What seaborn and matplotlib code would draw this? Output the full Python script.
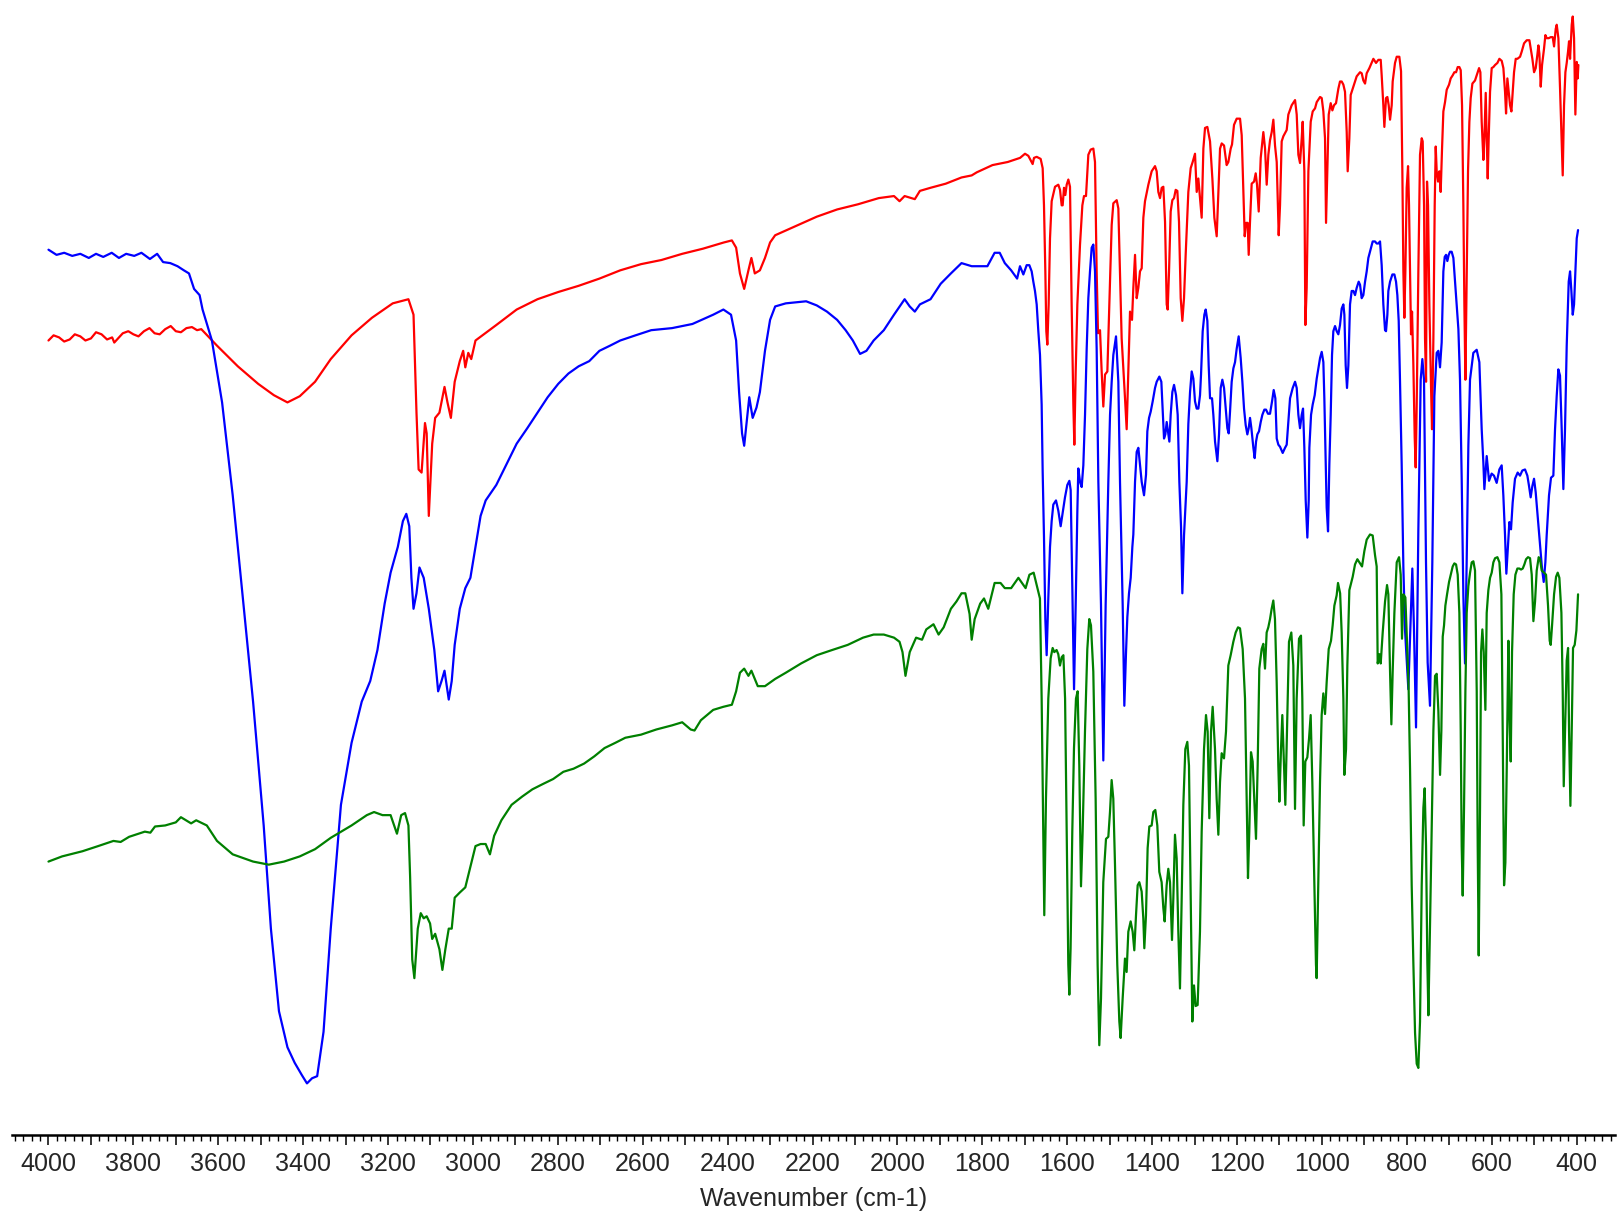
import pandas as pd
import seaborn as sns
import matplotlib
matplotlib.use("Agg")
import matplotlib.pyplot as plt
from matplotlib.ticker import MultipleLocator, FuncFormatter

# --- spectra (wavenumber in cm-1, offset transmittance) ---
red_wn = [4000, 3988, 3975, 3963, 3950, 3938, 3925, 3913, 3900, 3888,
          3875, 3862, 3850, 3845, 3825, 3812, 3800, 3788, 3775, 3762,
          3750, 3738, 3725, 3712, 3700, 3688, 3675, 3662, 3650, 3640,
          3603, 3554, 3506,
          3469, 3437, 3408, 3372, 3335, 3286, 3238, 3189, 3152, 3140,
          3133, 3128, 3121, 3113, 3109, 3104, 3096, 3089, 3079, 3067,
          3060, 3052, 3043, 3031, 3023, 3018, 3011, 3004, 2994, 2945,
          2897, 2848, 2799, 2751, 2702, 2653, 2604, 2556, 2507, 2458,
          2409, 2390, 2380, 2371, 2361, 2351, 2344, 2336, 2324, 2312,
          2300, 2288, 2239, 2190, 2142, 2093, 2044, 2008, 1995, 1983,
          1959, 1947, 1922, 1886, 1849, 1825, 1813, 1776, 1740, 1711,
          1699.4, 1691.6, 1681.4, 1678.2, 1671.9, 1662.5, 1657.8, 1654.7, 1651.5, 1649.2,
          1646.8, 1643.7, 1640.5, 1636.6, 1628.7, 1620.9, 1616.9, 1613.0, 1610.7, 1607.5,
          1604.4, 1601.2, 1597.3, 1593.4, 1589.5, 1585.5, 1583.2, 1580.0, 1576.1, 1569.8,
          1564.3, 1560.4, 1555.7, 1550.2, 1544.7, 1538.4, 1534.5, 1530.6, 1527.4, 1522.7,
          1518.8, 1514.9, 1510.9, 1505.4, 1500.7, 1495.2, 1491.3, 1483.4, 1479.5, 1475.6,
          1471.7, 1467.7, 1463.8, 1459.9, 1455.9, 1452.0, 1447.3, 1444.2, 1440.2, 1436.3,
          1432.4, 1428.5, 1424.5, 1420.6, 1416.7, 1408.8, 1401.0, 1393.1, 1389.2, 1385.3,
          1381.3, 1377.4, 1373.5, 1369.5, 1365.6, 1363.3, 1360.1, 1356.2, 1352.3, 1348.3,
          1344.4, 1340.5, 1336.6, 1332.6, 1328.7, 1324.8, 1320.9, 1314.6, 1309.1, 1304.4,
          1298.9, 1294.9, 1291.0, 1287.1, 1283.2, 1279.2, 1275.3, 1269.8, 1263.5, 1258.0,
          1253.3, 1247.8, 1243.9, 1239.9, 1236.0, 1230.5, 1224.3, 1220.3, 1214.8, 1211.7,
          1207.0, 1200.7, 1192.8, 1188.9, 1185.0, 1181.8, 1178.7, 1174.8, 1172.4, 1169.3,
          1165.4, 1159.8, 1155.9, 1152.8, 1148.8, 1144.1, 1137.9, 1133.9, 1130.0, 1126.1,
          1122.2, 1118.2, 1114.3, 1110.4, 1106.4, 1101.7, 1098.6, 1094.7, 1090.7, 1082.9,
          1079.0, 1071.1, 1063.2, 1059.3, 1055.4, 1051.5, 1047.5, 1045.2, 1041.3, 1038.9,
          1035.8, 1031.8, 1026.3, 1021.6, 1016.1, 1012.2, 1004.3,
          1000.4, 996.5, 992.6, 990.2, 987.1, 983.9, 979.2, 975.3, 971.4, 966.7,
          961.2, 957.3, 953.3, 949.4, 945.5, 941.5, 939.2, 935.3, 932.1, 927.4,
          921.9, 918.0, 910.1, 906.2, 902.3, 898.3, 894.4, 888.1, 885.0, 878.7,
          872.4, 866.9, 861.4, 859.1, 855.2, 852.8, 848.9, 845.7, 842.6, 839.4,
          835.5, 833.2, 827.7, 823.7, 817.5, 813.5, 810.4, 808.0, 805.7, 803.3,
          800.2, 797.0, 794.7, 792.3, 790.0, 787.6, 784.5, 781.3, 779.0, 776.6,
          772.7, 768.8, 764.8, 762.5, 759.3, 757.0, 754.6, 752.3, 749.9, 746.8,
          742.8, 740.5, 737.3, 734.2, 731.8, 729.5, 726.3, 723.2, 720.1, 716.9,
          713.8, 709.9, 705.9, 700.4, 696.5, 691.8, 687.9, 683.9, 680.0, 676.1,
          672.9, 669.8, 666.7, 664.3, 661.9, 658.8, 655.7, 652.5, 649.4, 645.4,
          639.2, 633.7, 629.7, 626.6, 623.5, 619.5, 617.2, 614.0, 611.7, 609.3,
          607.0, 603.8, 599.9, 596.0, 592.0, 586.5, 581.8, 576.3, 572.4, 568.5,
          566.1, 563.0, 559.8, 556.7, 553.5, 550.4, 547.3, 543.3, 539.4, 533.1,
          529.2, 523.7, 517.4, 511.1, 507.2, 504.1, 500.1, 496.2, 492.3, 489.9,
          487.6, 484.4, 481.3, 476.6, 473.4, 470.3, 465.6, 460.9, 456.2, 453.0,
          449.1, 446.7, 442.8, 438.9, 435.0, 432.6, 429.5, 426.3, 423.2, 420.1,
          417.7, 415.3, 411.4, 409.0, 405.9, 402.8, 399.6, 397.3, 395.7]
red_t = [77.0, 77.5, 77.3, 76.9, 77.1, 77.6, 77.4, 77.0, 77.2, 77.8,
         77.6, 77.1, 77.3, 76.8, 77.7, 77.9, 77.6, 77.4, 77.9, 78.2,
         77.7, 77.6, 78.1, 78.4, 77.9, 77.8, 78.2, 78.3, 78.0, 78.1,
         76.5, 74.5, 72.8,
         71.7, 71.0, 71.6, 73.0, 75.2, 77.5, 79.2, 80.6, 81.0, 79.5,
         70.0, 64.5, 64.2, 69.0, 68.0, 60.0, 67.0, 69.5, 70.0, 72.5,
         71.0, 69.5, 73.0, 75.0, 76.0, 74.4, 75.8, 75.2, 77.0, 78.5,
         80.0, 81.0, 81.7, 82.3, 83.0, 83.8, 84.4, 84.8, 85.4, 85.9,
         86.5, 86.7, 86.0, 83.5, 82.0, 83.8, 85.0, 83.5, 83.8, 85.0,
         86.5, 87.2, 88.1, 89.0, 89.7, 90.2, 90.8, 91.0, 90.5, 91.0,
         90.7, 91.5, 91.8, 92.2, 92.8, 93.0, 93.3, 94.0, 94.3, 94.7,
         95.1, 94.9, 94.1, 94.7, 94.8, 94.6, 93.7, 90.1, 83.7, 77.9,
         76.6, 80.5, 86.9, 90.5, 91.9, 92.1, 91.6, 90.1, 90.1, 91.8,
         91.1, 92.1, 92.6, 91.9, 80.5, 70.8, 66.9, 74.0, 80.5, 86.3,
         90.1, 91.0, 91.0, 95.0, 95.5, 95.6, 94.3, 83.7, 77.7, 78.0,
         74.0, 70.6, 73.7, 74.0, 80.5, 88.2, 90.3, 90.6, 89.8, 83.7,
         77.2, 74.3, 71.4, 68.4, 74.0, 79.8, 79.0, 82.1, 85.3, 81.1,
         82.1, 83.7, 84.0, 88.9, 90.5, 92.1, 93.4, 93.9, 93.4, 91.4,
         90.8, 91.8, 91.9, 88.5, 80.5, 80.0, 83.7, 89.5, 90.6, 90.8,
         91.6, 91.5, 88.5, 81.1, 78.9, 81.1, 85.3, 91.4, 93.7, 94.3,
         95.1, 91.4, 92.7, 90.8, 88.9, 95.6, 97.6, 97.7, 96.3, 92.7,
         88.9, 87.1, 91.4, 95.6, 96.1, 95.9, 94.0, 94.3, 95.6, 96.0,
         97.9, 98.5, 98.5, 96.9, 91.4, 87.1, 88.4, 88.4, 85.3, 88.5,
         92.2, 92.4, 93.2, 92.1, 89.5, 94.7, 97.2, 95.6, 92.1, 95.0,
         96.4, 97.2, 98.4, 95.9, 94.3, 87.2, 90.1, 96.3, 96.8, 97.4,
         98.9, 99.8, 100.3, 98.9, 95.0, 94.2, 96.6, 98.2, 93.4, 78.5,
         82.1, 93.4, 98.2, 99.2, 99.5, 100.1, 100.6,
         100.5, 99.2, 96.6, 88.4, 93.4, 98.9, 100.0, 99.3, 99.8, 100.0,
         101.4, 102.1, 102.1, 101.8, 101.1, 97.2, 93.4, 96.6, 100.8, 101.4,
         102.1, 102.6, 103.0, 102.9, 102.2, 101.9, 102.9, 103.4, 103.7, 104.3,
         103.9, 104.2, 104.2, 102.7, 99.8, 97.7, 100.5, 100.6, 99.8, 98.4,
         99.8, 102.1, 103.9, 104.5, 104.5, 103.1, 93.4, 83.7, 79.2, 83.7,
         91.8, 93.9, 90.1, 83.7, 77.6, 79.8, 74.7, 67.6, 64.7, 70.8,
         83.7, 95.0, 96.6, 96.3, 90.1, 77.2, 73.0, 92.4, 90.1, 80.5,
         72.4, 68.4, 77.2, 90.1, 95.8, 93.4, 92.4, 93.4, 91.4, 95.6,
         99.2, 100.1, 101.3, 101.8, 102.4, 102.7, 103.0, 103.0, 103.5, 103.5,
         103.2, 99.8, 90.1, 80.5, 73.2, 83.7, 93.4, 98.2, 100.5, 101.9,
         102.2, 102.9, 103.4, 103.0, 98.2, 94.5, 96.6, 101.0, 96.6, 92.7,
         96.6, 101.1, 103.4, 103.5, 103.7, 103.9, 104.3, 104.1, 103.4, 101.1,
         99.0, 102.4, 101.1, 99.8, 99.2, 101.1, 103.0, 104.3, 104.3, 104.5,
         105.0, 105.8, 106.1, 106.1, 105.1, 104.3, 103.0, 103.4, 104.7, 105.6,
         104.8, 101.6, 103.7, 105.3, 106.6, 106.3, 106.3, 106.4, 106.4, 105.5,
         107.2, 107.6, 106.3, 101.4, 96.0, 93.0, 99.8, 103.0, 103.9, 105.0,
         106.0, 104.3, 107.6, 108.4, 106.3, 98.9, 104.0, 102.4, 103.7]

blue_wn = [4000, 3981, 3963, 3944, 3925, 3905, 3888, 3871, 3851, 3834,
           3817, 3798, 3781, 3761, 3744, 3730, 3713, 3696, 3681, 3669,
           3657, 3644, 3637, 3615, 3591, 3566, 3542, 3518, 3493, 3476,
           3457, 3437, 3420, 3403, 3391, 3379, 3367, 3352, 3335, 3311,
           3286, 3262, 3242, 3225, 3208, 3194, 3177, 3165, 3157, 3150,
           3145, 3140, 3133, 3126, 3116, 3104, 3091, 3082, 3074, 3067,
           3057, 3050, 3043, 3031, 3018, 3006, 2994, 2982, 2970, 2945,
           2921, 2897, 2872, 2848, 2824, 2799, 2775, 2751, 2726, 2702,
           2677, 2653, 2617, 2580, 2531, 2483, 2434, 2410, 2392, 2380,
           2373, 2366, 2361, 2353, 2349, 2341, 2332, 2324, 2312, 2300,
           2288, 2263, 2215, 2190, 2166, 2142, 2122, 2105, 2088, 2073,
           2056, 2032, 2008, 1983, 1971, 1959, 1947, 1922, 1898, 1874,
           1849, 1825, 1805, 1788, 1771, 1759, 1747, 1732, 1718,
           1711.2, 1703.3, 1695.5, 1689.2, 1683.7, 1679.8, 1675.9, 1671.9, 1668.0, 1664.1,
           1660.2, 1657.8, 1654.7, 1651.5, 1648.4, 1644.5, 1640.5, 1636.6, 1632.7, 1626.4,
           1620.9, 1615.4, 1610.7, 1605.2, 1599.7, 1594.9, 1591.8, 1587.9, 1583.9, 1580.0,
           1576.1, 1573.8, 1569.8, 1565.9, 1562.0, 1558.0, 1554.1, 1550.2, 1546.3, 1542.3,
           1538.4, 1534.5, 1530.6, 1526.6, 1520.4, 1514.9, 1509.4, 1503.1, 1499.1, 1495.2,
           1491.3, 1485.0, 1479.5, 1475.6, 1469.3, 1465.4, 1461.4, 1458.3, 1454.4, 1450.4,
           1446.5, 1444.2, 1440.2, 1436.3, 1432.4, 1428.5, 1424.5, 1419.0, 1414.3, 1411.2,
           1407.2, 1403.3, 1398.6, 1393.1, 1389.2, 1382.9, 1378.2, 1375.1, 1371.9, 1368.8,
           1365.6, 1362.5, 1359.3, 1356.2, 1352.3, 1348.3, 1343.6, 1339.7, 1335.8, 1331.8,
           1328.7, 1324.8, 1318.5, 1314.6, 1310.6, 1306.7, 1302.8, 1298.9, 1294.9, 1291.0,
           1287.1, 1284.7, 1280.8, 1276.9, 1273.7, 1269.8, 1266.7, 1263.5, 1258.8, 1255.7,
           1251.7, 1246.2, 1242.3, 1238.4, 1234.5, 1230.5, 1226.6, 1222.7, 1219.5, 1216.4,
           1212.5, 1208.5, 1204.6, 1200.7, 1196.0, 1191.3, 1187.3, 1183.4, 1179.5, 1175.6,
           1172.4, 1169.3, 1166.1, 1161.4, 1158.3, 1155.1, 1152.0, 1148.1, 1144.1, 1140.2,
           1135.5, 1131.6, 1126.9, 1122.2, 1117.4, 1113.5, 1109.6, 1106.4, 1102.5, 1098.6,
           1092.3, 1086.8, 1082.9, 1079.0, 1075.0, 1068.7, 1063.2, 1059.3, 1055.4, 1051.5,
           1047.5, 1044.4, 1041.3, 1038.1, 1034.2, 1031.0, 1029.5, 1025.5, 1021.6, 1016.9,
           1012.2, 1004.3, 1000.4, 996.5, 994.2, 991.8, 988.7, 985.5, 982.4, 979.2,
           976.1, 973.0, 969.0, 965.1, 961.2, 957.3, 953.3, 949.4, 947.0, 943.9,
           940.8, 937.6, 933.7, 929.8, 925.8, 921.9, 918.0, 913.3, 910.1, 906.2,
           902.3, 898.3, 894.4, 890.5, 886.6, 880.3, 874.8, 870.9, 866.9, 863.0,
           859.1, 855.2, 851.2, 848.9, 845.7, 843.4, 839.4, 833.9, 829.2, 825.3,
           822.2, 819.0, 815.9, 812.0, 808.0, 804.2, 796.3, 791.6, 786.9, 783.0,
           778.2, 772.7, 767.2, 763.3, 759.4, 754.7, 750.8, 745.3, 739.8, 735.0,
           729.5, 725.6, 721.7, 717.8, 713.8, 710.6, 707.5, 704.4, 701.2, 698.1,
           694.2, 690.2, 686.3, 682.4, 678.4, 674.6, 670.6, 666.7, 662.8, 658.9,
           654.9, 651.0, 643.2, 635.3, 629.0, 623.5, 619.6, 617.2, 611.7, 606.2,
           600.0, 594.5, 588.2, 581.9, 576.4, 572.5, 568.5, 565.4, 561.5, 558.3,
           554.4, 550.5, 545.0, 538.7, 533.2, 527.7, 521.4, 515.9, 512.0, 508.1,
           504.1, 500.2, 496.3, 491.6, 486.1, 481.4, 477.4, 473.5, 470.4, 464.9,
           460.2, 454.7, 450.7, 446.8, 442.9, 439.0, 435.0, 431.1, 427.2, 423.2,
           418.5, 415.3, 412.2, 409.0, 405.9, 402.8, 399.6, 396.5]
blue_t = [85.8, 85.3, 85.5, 85.2, 85.4, 85.0, 85.4, 85.1, 85.5, 85.0,
          85.4, 85.2, 85.5, 84.9, 85.4, 84.6, 84.5, 84.2, 83.8, 83.5,
          82.0, 81.4, 80.0, 77.0, 71.0, 62.0, 52.0, 42.0, 30.0, 20.0,
          12.0, 8.5, 7.0, 5.8, 5.0, 5.5, 5.7, 10.0, 20.0, 32.0,
          38.0, 42.0, 44.0, 47.0, 51.5, 54.5, 57.0, 59.5, 60.2, 59.0,
          54.0, 51.0, 52.5, 55.0, 54.0, 51.0, 47.0, 43.0, 44.0, 45.0,
          42.2, 44.0, 47.5, 51.0, 53.0, 54.0, 57.0, 60.0, 61.5, 63.0,
          65.0, 67.0, 68.5, 70.0, 71.5, 72.8, 73.8, 74.5, 75.0, 76.0,
          76.5, 77.0, 77.5, 78.0, 78.2, 78.6, 79.5, 80.0, 79.5, 77.0,
          72.0, 68.0, 66.8, 70.0, 71.5, 69.5, 70.5, 72.0, 76.0, 79.0,
          80.3, 80.6, 80.8, 80.4, 79.8, 79.0, 78.0, 77.0, 75.7, 76.0,
          77.0, 78.0, 79.5, 81.0, 80.3, 79.8, 80.5, 81.0, 82.5, 83.5,
          84.5, 84.2, 84.2, 84.2, 85.5, 85.5, 84.5, 83.8, 83.0,
          84.2, 83.4, 84.3, 84.3, 83.7, 82.7, 81.8, 80.5, 77.9, 75.6,
          70.8, 64.3, 58.0, 50.0, 46.5, 52.0, 57.0, 59.5, 61.1, 61.5,
          60.5, 59.0, 60.3, 61.8, 63.0, 63.4, 62.5, 53.2, 43.2, 51.4,
          60.4, 64.6, 63.3, 62.8, 64.9, 69.8, 76.2, 81.1, 83.7, 86.0,
          86.3, 83.7, 76.2, 63.3, 51.4, 36.3, 51.4, 63.3, 69.8, 73.0,
          75.6, 77.4, 73.0, 63.3, 51.4, 41.6, 46.8, 50.2, 52.5, 54.0,
          57.0, 58.2, 63.3, 66.2, 66.6, 65.0, 63.3, 62.0, 64.0, 68.2,
          69.5, 70.1, 71.1, 72.4, 73.0, 73.5, 73.0, 70.4, 67.5, 67.9,
          69.1, 68.2, 67.2, 69.8, 72.0, 72.7, 71.7, 69.8, 63.3, 58.9,
          52.5, 58.1, 63.3, 68.9, 72.0, 74.0, 73.3, 71.1, 70.4, 70.4,
          71.7, 73.7, 77.9, 79.5, 80.0, 78.9, 74.6, 71.4, 71.4, 69.8,
          67.2, 65.3, 67.9, 72.4, 73.2, 72.4, 70.4, 68.5, 68.0, 70.1,
          73.0, 74.3, 74.9, 76.2, 77.4, 75.3, 73.0, 70.4, 68.8, 67.9,
          68.5, 69.5, 68.5, 66.6, 65.6, 67.2, 67.9, 68.2, 69.1, 69.8,
          70.3, 70.3, 69.9, 69.9, 71.1, 72.2, 71.4, 67.5, 66.9, 66.7,
          66.1, 66.6, 66.9, 69.1, 71.4, 72.4, 73.0, 72.4, 69.8, 68.5,
          69.8, 70.4, 66.6, 61.5, 57.9, 61.5, 66.6, 69.8, 70.8, 71.7,
          73.3, 75.3, 75.9, 74.9, 71.4, 66.6, 60.8, 58.5, 65.0, 69.8,
          75.6, 77.9, 78.4, 77.9, 77.6, 78.5, 80.1, 80.5, 79.5, 74.6,
          72.4, 74.6, 80.5, 81.8, 81.8, 81.4, 82.1, 82.7, 82.4, 81.1,
          81.4, 82.7, 83.7, 85.0, 85.6, 86.6, 86.6, 86.4, 86.4, 86.6,
          84.3, 80.5, 78.0, 77.9, 79.5, 81.8, 82.7, 83.4, 83.4, 82.7,
          81.4, 78.9, 73.0, 65.0, 55.0, 49.0, 43.2, 49.0, 54.9, 49.0,
          39.5, 58.7, 73.2, 75.2, 73.2, 55.5, 45.8, 41.6, 55.5, 71.6,
          75.8, 76.0, 74.4, 76.8, 83.7, 85.1, 85.3, 84.7, 85.3, 85.6,
          85.6, 85.0, 82.7, 80.5, 78.1, 73.2, 63.6, 52.3, 45.7, 55.5,
          66.8, 73.2, 75.8, 76.1, 74.9, 68.4, 65.2, 62.6, 65.8, 63.4,
          64.1, 63.9, 63.2, 64.5, 64.9, 62.0, 58.1, 54.4, 57.1, 59.4,
          58.7, 61.3, 63.6, 64.2, 63.9, 64.4, 64.5, 63.9, 62.9, 61.8,
          62.9, 63.6, 62.3, 60.0, 57.4, 54.9, 53.6, 55.5, 58.1, 62.0,
          63.7, 63.9, 68.4, 71.6, 74.2, 73.6, 68.4, 62.6, 68.4, 76.5,
          82.7, 83.7, 81.8, 79.5, 80.5, 83.7, 86.9, 87.7]

green_wn = [4000, 3968, 3920, 3883, 3847, 3830, 3810, 3773, 3760, 3749,
            3725, 3700, 3688, 3676, 3664, 3652, 3627, 3603, 3566, 3518,
            3481, 3445, 3408, 3372,
            3335, 3286, 3250, 3233, 3213, 3194, 3179, 3169, 3160, 3152,
            3148, 3143, 3138, 3130, 3123, 3116, 3109, 3101, 3096, 3089,
            3079, 3072, 3065, 3057, 3050, 3043, 3031, 3018, 3006, 2994,
            2982, 2970, 2960, 2950, 2933, 2909, 2884, 2860, 2836, 2811,
            2787, 2763, 2738, 2714, 2690, 2665, 2641, 2604, 2568, 2531,
            2507, 2487, 2478, 2463, 2434, 2410, 2390, 2380, 2371, 2361,
            2351, 2344, 2329, 2312, 2288, 2263, 2227, 2190, 2154, 2117,
            2081, 2056, 2032, 2008, 1995, 1988, 1981, 1971, 1956, 1942,
            1932, 1915, 1903, 1891, 1874, 1861, 1849, 1840, 1830, 1825,
            1818, 1805, 1796, 1786, 1771, 1757, 1747, 1732, 1715, 1698,
            1689, 1679,
            1664.2, 1660.2, 1656.3, 1654.0, 1650.0, 1644.5, 1639.0, 1634.3, 1630.4, 1625.0,
            1621.0, 1617.0, 1613.0, 1609.0, 1605.0, 1601.3, 1597.4, 1595.0, 1592.0, 1588.0,
            1584.0, 1579.3, 1575.4, 1571.5, 1567.5, 1563.6, 1558.1, 1552.6, 1548.0, 1544.0,
            1538.5, 1533.0, 1528.3, 1524.4, 1520.4, 1515.0, 1508.6, 1503.1, 1499.2, 1495.3,
            1491.4, 1487.4, 1482.0, 1477.2, 1474.1, 1469.4, 1463.9, 1460.0, 1456.0, 1450.5,
            1445.8, 1441.9, 1437.9, 1434.0, 1430.1, 1424.6, 1420.7, 1418.3, 1414.4, 1410.5,
            1406.5, 1401.0, 1397.1, 1392.4, 1387.7, 1383.0, 1377.5, 1373.5, 1370.4, 1365.7,
            1361.8, 1357.8, 1353.1, 1350.0, 1346.1, 1342.1, 1338.2, 1334.3, 1330.3, 1326.4,
            1321.7, 1317.0, 1313.1, 1309.1, 1305.2, 1301.3, 1297.4, 1292.7, 1287.2, 1283.2,
            1277.7, 1273.0, 1269.1, 1265.2, 1261.2, 1257.3, 1251.8, 1247.9, 1243.9, 1240.0,
            1236.1, 1230.6, 1225.9, 1220.4, 1214.9, 1208.6, 1203.1, 1197.6, 1192.9, 1186.6,
            1181.1, 1177.2, 1174.1, 1171.0, 1167.0, 1163.1, 1159.2, 1155.2, 1151.3, 1147.4,
            1141.9, 1138.0, 1134.0, 1130.1, 1126.2, 1122.2, 1118.3, 1114.4, 1110.5, 1106.5,
            1102.6, 1100.2, 1096.3, 1093.2, 1089.2, 1086.1, 1081.4, 1077.5, 1072.0, 1067.3,
            1063.3, 1059.4, 1053.9, 1049.2, 1046.1, 1042.9, 1039.0, 1034.3, 1030.3, 1026.4,
            1022.5, 1018.6, 1013.9, 1012.3, 1008.4, 1004.4, 1000.5, 996.6, 992.6, 988.7,
            983.9, 978.5, 974.6, 970.6, 965.2, 962.0, 957.0, 953.4, 949.4, 947.1,
            943.1, 940.0,
            935.3, 927.4, 921.9, 916.4, 910.1, 905.4, 899.9, 894.4, 886.6, 880.3,
            874.8, 870.9, 868.5, 864.6, 861.4, 856.7, 851.2, 846.5, 843.4, 839.4,
            836.3, 833.2, 829.2, 823.7, 818.2, 814.3, 811.2, 808.0, 803.3, 798.6,
            795.5, 792.3, 788.4, 784.5, 780.5, 776.6, 772.7, 768.8, 764.8, 760.9,
            757.8, 754.6, 751.5, 749.1, 745.2, 741.3, 737.3, 733.4, 729.5, 725.6,
            721.6, 718.5, 715.3, 712.2, 709.1, 705.1, 700.4, 696.5, 691.8, 687.9,
            683.9, 680.0, 676.1, 672.9, 670.6, 668.2, 665.1, 661.9, 658.8, 654.9,
            650.9, 647.0, 643.1, 639.2, 635.2, 632.9, 630.5, 627.4, 625.0, 621.9,
            618.7, 614.8, 611.7, 607.8, 603.8, 599.9, 596.0, 592.0, 586.5, 581.8,
            577.1, 574.0, 570.8, 567.7, 564.5, 560.6, 558.3, 555.1, 552.0, 548.1,
            544.1, 539.4, 534.7, 530.8, 526.8, 522.9, 519.0, 514.3, 509.6, 505.6,
            501.7, 497.8, 493.9, 489.2, 486.0, 482.1, 476.6, 471.9, 467.2, 463.3,
            460.9, 457.7, 453.0, 448.3, 444.4, 440.5, 435.7, 432.6, 430.2, 427.1,
            423.2, 420.0, 417.7, 414.5, 411.4, 408.3, 404.4, 400.4, 396.5]
green_t = [26.5, 27.0, 27.5, 28.0, 28.5, 28.4, 28.9, 29.4, 29.3, 29.9,
           30.0, 30.3, 30.8, 30.5, 30.2, 30.5, 30.0, 28.5, 27.2, 26.5,
           26.2, 26.5, 27.0, 27.7,
           28.8, 30.0, 31.0, 31.3, 31.0, 31.0, 29.2, 31.0, 31.2, 30.0,
           25.0, 17.0, 15.2, 20.0, 21.5, 21.0, 21.2, 20.5, 19.0, 19.5,
           18.0, 16.0, 18.0, 20.0, 20.0, 23.0, 23.5, 24.0, 26.0, 28.0,
           28.2, 28.2, 27.2, 29.0, 30.5, 32.0, 32.8, 33.5, 34.0, 34.5,
           35.2, 35.5, 36.0, 36.7, 37.5, 38.0, 38.5, 38.8, 39.3, 39.7,
           40.0, 39.3, 39.2, 40.2, 41.2, 41.5, 41.7, 43.0, 44.8, 45.2,
           44.5, 45.0, 43.5, 43.5, 44.2, 44.8, 45.7, 46.5, 47.0, 47.5,
           48.2, 48.5, 48.5, 48.2, 47.8, 46.8, 44.5, 46.8, 48.2, 48.0,
           49.0, 49.5, 48.5, 49.2, 51.0, 51.7, 52.5, 52.5, 50.5, 48.0,
           50.0, 51.5, 52.0, 51.0, 53.5, 53.5, 53.0, 53.0, 54.0, 53.0,
           54.3, 54.5,
           52.0, 42.3, 29.4, 21.3, 32.6, 42.3, 46.2, 47.2, 46.8, 47.0,
           46.6, 45.5, 46.3, 46.5, 42.3, 29.4, 16.5, 13.6, 18.1, 29.4,
           37.5, 42.3, 43.0, 35.8, 24.1, 29.4, 39.1, 47.1, 50.0, 49.4,
           44.9, 32.6, 16.5, 8.7, 13.2, 24.5, 28.7, 28.9, 31.3, 34.4,
           32.6, 26.2, 16.5, 11.0, 9.4, 13.2, 17.1, 15.8, 19.7, 20.7,
           19.7, 17.9, 21.3, 24.2, 24.5, 23.6, 21.0, 18.1, 21.3, 27.8,
           29.9, 30.0, 31.3, 31.5, 30.0, 25.5, 24.5, 22.0, 20.7, 24.2,
           25.8, 24.5, 18.9, 22.9, 29.1, 26.8, 19.7, 14.2, 22.9, 32.0,
           37.4, 38.1, 35.8, 22.9, 11.0, 14.5, 12.5, 12.6, 19.7, 29.4,
           37.4, 40.7, 39.1, 30.7, 39.1, 41.5, 37.4, 32.6, 29.1, 34.2,
           37.0, 36.5, 39.1, 45.5, 46.5, 47.8, 48.7, 49.2, 49.1, 47.1,
           42.3, 32.6, 24.9, 29.4, 37.1, 36.2, 32.6, 28.7, 35.8, 45.2,
           47.1, 47.6, 45.2, 48.7, 49.2, 50.0, 51.0, 51.8, 50.0, 43.9,
           35.8, 32.3, 37.4, 40.7, 35.8, 32.0, 40.7, 47.8, 48.7, 45.5,
           31.6, 42.3, 48.1, 48.4, 42.3, 30.0, 36.2, 36.6, 38.4, 40.7,
           34.2, 26.2, 16.5, 15.2, 24.5, 34.2, 40.7, 42.8, 40.8, 43.9,
           47.1, 47.9, 49.4, 51.3, 52.3, 53.5, 52.5, 48.7, 42.3, 34.9,
           37.4, 45.5,
           52.8, 54.1, 55.3, 55.8, 55.4, 55.1, 56.6, 57.7, 58.2, 58.1,
           56.2, 55.1, 45.7, 46.6, 45.7, 48.7, 51.7, 53.3, 52.4, 44.9,
           39.8, 44.9, 50.6, 55.5, 56.0, 54.3, 48.1, 52.4, 52.1, 46.8,
           43.0, 35.5, 24.2, 16.7, 9.9, 6.9, 6.5, 11.0, 24.2, 31.7,
           33.6, 28.0, 16.7, 11.6, 20.4, 29.8, 39.2, 44.5, 44.7, 41.1,
           34.9, 39.2, 48.3, 49.4, 51.3, 52.4, 53.6, 54.3, 55.1, 55.4,
           55.3, 54.3, 50.6, 39.2, 28.0, 23.2, 31.7, 43.0, 50.6, 53.2,
           54.5, 55.5, 55.6, 54.7, 43.0, 28.0, 17.4, 31.7, 46.8, 49.0,
           46.8, 41.2, 50.6, 52.8, 54.0, 54.5, 55.5, 55.9, 56.0, 55.5,
           52.4, 39.2, 24.2, 26.4, 35.5, 47.9, 41.1, 36.2, 46.8, 52.4,
           54.3, 54.9, 54.9, 54.8, 54.9, 55.3, 55.8, 56.0, 55.9, 54.3,
           49.8, 51.7, 54.7, 56.0, 55.8, 54.7, 54.5, 54.3, 51.3, 47.9,
           47.5, 49.4, 52.4, 54.1, 54.5, 54.0, 50.6, 43.0, 33.8, 39.2,
           46.0, 47.2, 39.2, 31.9, 39.2, 47.2, 47.5, 48.9, 52.4]

traces = [(red_wn, red_t, '#ff0000'),
          (blue_wn, blue_t, '#0000ff'),
          (green_wn, green_t, '#008000')]

sns.set_style("white")
plt.rcParams['font.family'] = ['Liberation Sans', 'DejaVu Sans']

fig = plt.figure(figsize=(16.21, 12.22), dpi=100)
ax = fig.add_axes([0.00765, 0.0712, 0.9885, 0.9288])

for wn, t, col in traces:
    df = pd.DataFrame({'wavenumber': wn, 'T': t})
    sns.lineplot(data=df, x='wavenumber', y='T', color=col, linewidth=1.6,
                 estimator=None, sort=False, ax=ax)

ax.set_xlim(4085, 310)
ax.set_ylim(0, 110)

# only the bottom wavenumber axis is drawn
for side in ['left', 'right', 'top']:
    ax.spines[side].set_visible(False)
ax.spines['bottom'].set_linewidth(1.8)
ax.spines['bottom'].set_color('black')
ax.set_yticks([])
ax.set_ylabel('')

ax.xaxis.set_major_locator(MultipleLocator(100))
ax.xaxis.set_minor_locator(MultipleLocator(20))
ax.xaxis.set_major_formatter(FuncFormatter(lambda v, p: f'{int(v)}' if int(round(v)) % 200 == 0 else ''))
ax.tick_params(axis='x', which='major', direction='out', length=7, width=1.1,
               color='black', labelsize=18, pad=5, bottom=True)
ax.tick_params(axis='x', which='minor', direction='out', length=4, width=1.0,
               color='black', bottom=True)
ax.set_xlabel('Wavenumber (cm-1)', fontsize=18, labelpad=8)

fig.savefig('out.png', dpi=100)
